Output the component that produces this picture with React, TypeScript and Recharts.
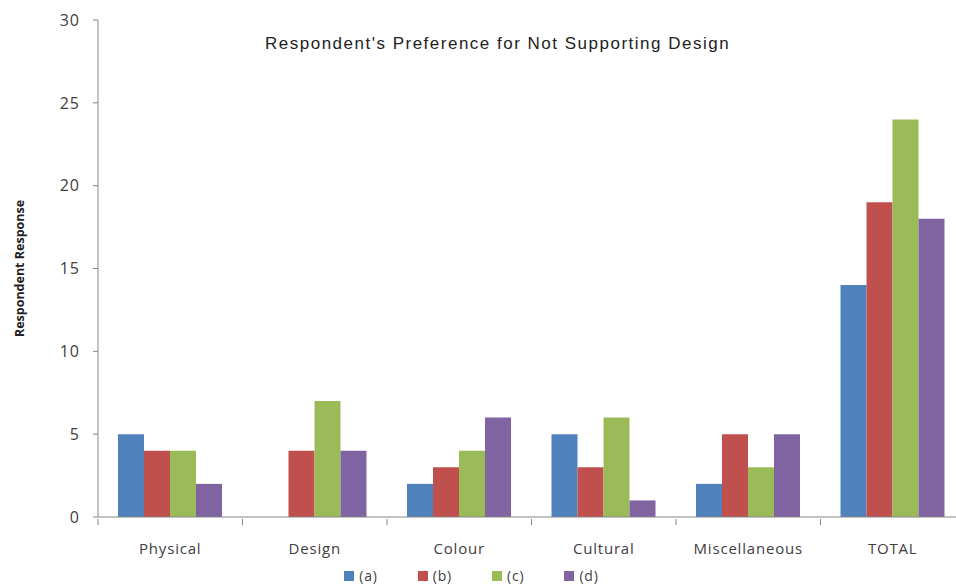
import { Bar, BarChart, Legend, XAxis, YAxis } from "recharts"

const categories = ["Physical", "Design", "Colour", "Cultural", "Miscellaneous", "TOTAL"]
const seriesA = [5, 0, 2, 5, 2, 14]
const seriesB = [4, 4, 3, 3, 5, 19]
const seriesC = [4, 7, 4, 6, 3, 24]
const seriesD = [2, 4, 6, 1, 5, 18]
const yTicks = [0, 5, 10, 15, 20, 25, 30]

const series = [
  { key: "a", name: "(a)", color: "#4F81BD" },
  { key: "b", name: "(b)", color: "#C0504D" },
  { key: "c", name: "(c)", color: "#9BBB59" },
  { key: "d", name: "(d)", color: "#8064A2" },
]

const chartData = categories.map((name, i) => ({
  name,
  a: seriesA[i],
  b: seriesB[i],
  c: seriesC[i],
  d: seriesD[i],
}))

const axisColor = "#868686"
const font = "'Open Sans', sans-serif"

// category label plus a tick mark on the boundary of each band, like Excel
function CategoryTick(props: any) {
  const { x, y, payload, index, visibleTicksCount } = props
  const half = payload.offset || 0
  const axisY = y - 6
  return (
    <g>
      <line x1={x - half} x2={x - half} y1={axisY} y2={axisY + 6} stroke={axisColor} />
      {index === visibleTicksCount - 1 && (
        <line x1={x + half} x2={x + half} y1={axisY} y2={axisY + 6} stroke={axisColor} />
      )}
      <text
        x={x}
        y={axisY + 35}
        textAnchor="middle"
        fontSize={15}
        letterSpacing={0.8}
        fill="#404040"
        fontFamily={font}
      >
        {payload.value}
      </text>
    </g>
  )
}

function LegendContent() {
  return (
    <div
      style={{
        display: "flex",
        justifyContent: "center",
        paddingTop: 14,
        paddingRight: 22,
        fontFamily: font,
        fontSize: 14,
        letterSpacing: 0.8,
        color: "#404040",
      }}
    >
      {series.map((s) => (
        <div key={s.key} style={{ display: "flex", alignItems: "center", margin: "0 20px" }}>
          <span style={{ width: 10, height: 10, background: s.color, display: "inline-block", marginRight: 5 }} />
          <span>{s.name}</span>
        </div>
      ))}
    </div>
  )
}

export default function App() {
  return (
    <div style={{ position: "absolute", left: 0, top: 0, width: 956, height: 587, overflow: "hidden", background: "#fff" }}>
      <div
        style={{
          position: "absolute",
          top: 34,
          left: 265,
          fontFamily: "'Liberation Sans', Arial, sans-serif",
          fontSize: 17,
          letterSpacing: 1.5,
          color: "#222",
          whiteSpace: "nowrap",
          zIndex: 2,
        }}
      >
        Respondent's Preference for Not Supporting Design
      </div>
      <BarChart
        width={972}
        height={587}
        data={chartData}
        margin={{ top: 20, right: 7, bottom: 0, left: 0 }}
        barGap={0}
        barCategoryGap={20}
      >
        <XAxis
          dataKey="name"
          stroke={axisColor}
          tickLine={false}
          tick={<CategoryTick />}
          height={35}
          interval={0}
        />
        <YAxis
          domain={[0, 30]}
          ticks={yTicks}
          width={98}
          stroke={axisColor}
          tickSize={5}
          tickMargin={13}
          tick={{ fontSize: 16, fill: "#404040", fontFamily: font, letterSpacing: 1 }}
          label={{
            content: (p: any) => {
              const vb = p.viewBox
              const cx = 19
              const cy = vb.y + vb.height / 2
              return (
                <text
                  x={cx}
                  y={cy}
                  transform={`rotate(-90 ${cx} ${cy})`}
                  textAnchor="middle"
                  dominantBaseline="central"
                  fontSize={12.5}
                  fontWeight="bold"
                  fill="#222"
                  fontFamily={font}
                >
                  Respondent Response
                </text>
              )
            },
          }}
        />
        <Legend verticalAlign="bottom" height={35} content={<LegendContent />} />
        {series.map((s) => (
          <Bar key={s.key} dataKey={s.key} name={s.name} fill={s.color} isAnimationActive={false} />
        ))}
      </BarChart>
    </div>
  )
}
